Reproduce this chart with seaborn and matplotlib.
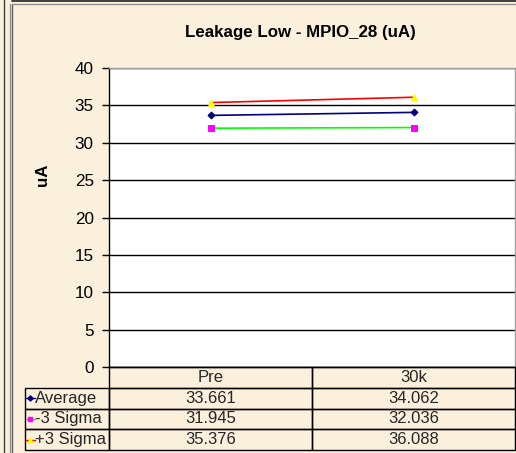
import matplotlib
matplotlib.use('Agg')
import matplotlib.pyplot as plt
from matplotlib.table import Table
from matplotlib.lines import Line2D
import pandas as pd
import seaborn as sns

# данные графика
stages = ['Pre', '30k']
avg_vals = [33.661, 34.062]
minus3_vals = [31.945, 32.036]
plus3_vals = [35.376, 36.088]
series_names = ['Average', '-3 Sigma', '+3 Sigma']
y_ticks = [0, 5, 10, 15, 20, 25, 30, 35, 40]

sns.set_theme(style='white')
plt.rcParams['font.family'] = ['Liberation Sans', 'DejaVu Sans']

cream = '#FAF0DC'
W, H = 516, 453

fig = plt.figure(figsize=(W / 100, H / 100), dpi=100)
fig.patch.set_facecolor(cream)

# рамки вокруг диаграммы (как в Excel)
fig.add_artist(Line2D([4 / W, 4 / W], [0, 1], color='#404040', lw=1))
fig.add_artist(Line2D([9.5 / W, 9.5 / W], [0, 1 - 4 / H], color='#909090', lw=1))
fig.add_artist(Line2D([11.5 / W, 11.5 / W], [0, 1 - 4 / H], color='#606060', lw=1))
fig.add_artist(Line2D([12 / W, 1], [1 - 1 / H, 1 - 1 / H], color='#202020', lw=1.2))
fig.add_artist(Line2D([12 / W, 1], [1 - 3.5 / H, 1 - 3.5 / H], color='#909090', lw=1))

ax = fig.add_axes([109 / W, 1 - 367 / H, (515 - 109) / W, (367 - 68) / H])
ax.set_facecolor('white')

df = pd.DataFrame({
    'stage': stages * 3,
    'value': avg_vals + minus3_vals + plus3_vals,
    'series': [s for s in series_names for _ in stages],
})

styles = {
    'Average': dict(color='#000080', marker='D', mfc='#000080', mec='#000080', ms=3.5),
    '-3 Sigma': dict(color='#00FF00', marker='s', mfc='#FF00FF', mec='#FF00FF', ms=4.5),
    '+3 Sigma': dict(color='#FF0000', marker='^', mfc='#FFFF00', mec='#FFFF00', ms=4.5),
}

for name in series_names:
    sub = df[df['series'] == name]
    st = styles[name]
    sns.lineplot(data=sub, x='stage', y='value', ax=ax, color=st['color'],
                 marker=st['marker'], markerfacecolor=st['mfc'],
                 markeredgecolor=st['mec'], markersize=st['ms'], lw=1.2)

ax.set_xlim(-0.5, 1.5)
ax.set_ylim(0, 40)
ax.set_yticks(y_ticks)
ax.set_xticks([])
ax.set_xlabel('')
ax.set_ylabel('')
ax.yaxis.grid(True, color='black', lw=1)
ax.set_axisbelow(True)
ax.tick_params(axis='y', left=True, direction='out', length=5, width=1,
               color='black', labelsize=12.3, pad=6, labelcolor='black')
for side in ['left', 'bottom']:
    ax.spines[side].set_color('black')
    ax.spines[side].set_linewidth(1)
for side in ['top', 'right']:
    ax.spines[side].set_color('#A0A0A0')
    ax.spines[side].set_linewidth(1)

fig.text(300 / W, 1 - 33 / H, 'Leakage Low - MPIO_28 (uA)', ha='center', va='center',
         fontsize=12.2, fontweight='bold', color='black')
fig.text(42 / W, 1 - 175 / H, 'uA', ha='center', va='center', rotation=90,
         fontsize=12.2, fontweight='bold', color='black')

# таблица данных под графиком
tax = fig.add_axes([25 / W, 1 - 450 / H, (515 - 25) / W, 83 / H])
tax.axis('off')
tab = Table(tax, bbox=[0, 0, 1, 1])
col_w = [84, 203, 203]
rows = [avg_vals, minus3_vals, plus3_vals]

for j, lab in enumerate(stages):
    tab.add_cell(0, j + 1, width=col_w[j + 1], height=1, text=lab, loc='center',
                 facecolor='none', edgecolor='black')
for i, name in enumerate(series_names):
    c = tab.add_cell(i + 1, 0, width=col_w[0], height=1, text=name, loc='left',
                     facecolor='none', edgecolor='black')
    c.PAD = 0.12
    for j, v in enumerate(rows[i]):
        tab.add_cell(i + 1, j + 1, width=col_w[j + 1], height=1, text='%.3f' % v,
                     loc='center', facecolor='none', edgecolor='black')

tab.auto_set_font_size(False)
tab.set_fontsize(12)
for cell in tab.get_celld().values():
    cell.set_linewidth(1)
tax.add_table(tab)

# значки легенды в ячейках таблицы
for i, name in enumerate(series_names):
    st = styles[name]
    yc = 1 - (i + 1.5) / 4
    tax.add_line(Line2D([0.5 / 490, 10 / 490], [yc, yc], color=st['color'], lw=1,
                        clip_on=False))
    tax.add_line(Line2D([5 / 490], [yc], marker=st['marker'], mfc=st['mfc'],
                        mec=st['mec'], ms=st['ms'] * 0.75, lw=0, clip_on=False))

fig.savefig('out.png', dpi=100, facecolor=fig.get_facecolor())
